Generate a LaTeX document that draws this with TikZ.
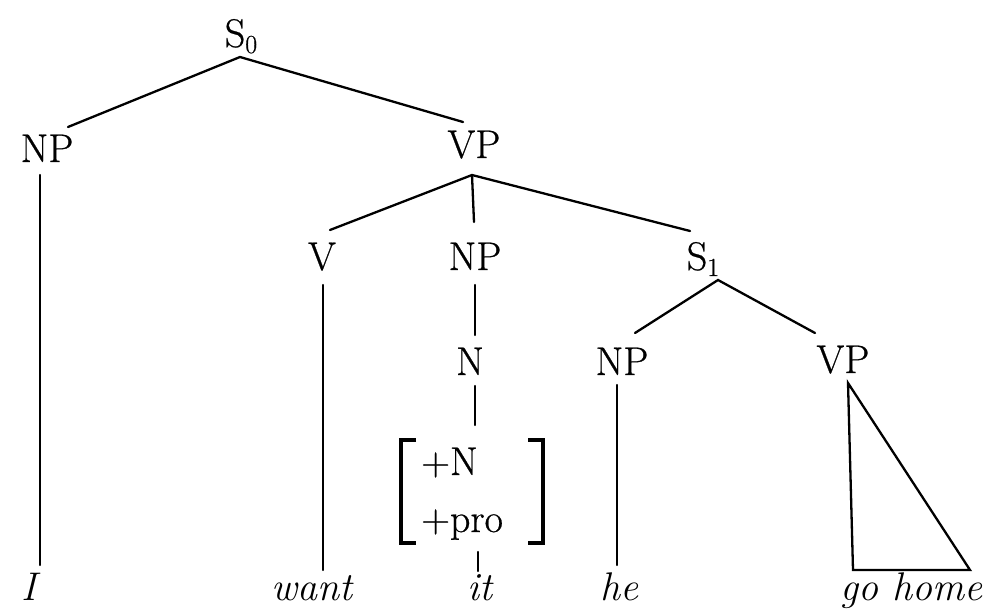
\documentclass[tikz,border=0pt]{standalone}
\usepackage{fontspec}
\newfontfamily\thickrm{Latin Modern Roman}[FakeBold=0.6]
\begin{document}
\begin{tikzpicture}[x=1pt,y=-1pt,
  lab/.style={anchor=base,inner sep=0pt,font=\fontsize{40}{48}\selectfont\thickrm},
  leaf/.style={anchor=base,inner sep=0pt,font=\fontsize{40}{48}\selectfont\itshape},
  edge/.style={line width=2.3pt,line cap=round},
  brk/.style={line width=3.5pt}]
\useasboundingbox (0,0) rectangle (987,609);
% labels
\node[lab] (s0) at (241,47) {S\raisebox{-6pt}{\fontsize{26}{30}\selectfont 0}};
\node[lab] (np1) at (47,162) {NP};
\node[lab] (vp1) at (474,158) {VP};
\node[lab] (v) at (322,270) {V};
\node[lab] (np2) at (475,270) {NP};
\node[lab] (s1) at (703,270) {S\raisebox{-6pt}{\fontsize{26}{30}\selectfont 1}};
\node[lab] (n) at (470,375) {N};
\node[lab] (np3) at (622,375) {NP};
\node[lab] (vp2) at (843,373) {VP};
\node[lab,anchor=base west] (fm1) at (421,475) {+N};
\node[lab,anchor=base west] (fm2) at (421,532) {+pro};
\node[leaf] (lI) at (29,600) {I};
\node[leaf] (lwant) at (312,600) {want};
\node[leaf] (lit) at (480,600) {it};
\node[leaf] (lhe) at (619,600) {he};
\node[leaf] (lgo) at (911,600) {go home};
% attachment points
\coordinate (s0b) at (240,57);
\coordinate (np1t) at (68,127);
\coordinate (vp1t) at (463,122);
\coordinate (np1b) at (40,175);
\coordinate (lIt) at (40,565);
\coordinate (vp1b) at (472,175);
\coordinate (vt) at (330,230);
\coordinate (np2t) at (474,222);
\coordinate (s1t) at (690,231);
\coordinate (vb) at (323,285);
\coordinate (lwantt) at (323,570);
\coordinate (np2b) at (475,285);
\coordinate (nt) at (475,335);
\coordinate (nb) at (475,386);
\coordinate (fmt) at (475,425);
\coordinate (fmb) at (478,552);
\coordinate (litt) at (478,571);
\coordinate (s1b) at (718,280);
\coordinate (np3t) at (635,333);
\coordinate (vp2t) at (815,333);
\coordinate (np3b) at (617,385);
\coordinate (lhet) at (617,565);
\coordinate (apex) at (848,383);
\coordinate (tbl) at (853,570);
\coordinate (tbr) at (970,570);
% edges
\draw[edge] (np1t) -- (s0b) -- (vp1t);
\draw[edge] (np1b) -- (lIt);
\draw[edge] (vt) -- (vp1b) -- (s1t);
\draw[edge] (vp1b) -- (np2t);
\draw[edge] (vb) -- (lwantt);
\draw[edge] (np2b) -- (nt);
\draw[edge] (nb) -- (fmt);
\draw[edge] (fmb) -- (litt);
\draw[edge] (np3t) -- (s1b) -- (vp2t);
\draw[edge] (np3b) -- (lhet);
\draw[edge,line join=miter] (apex) -- (tbl) -- (tbr) -- cycle;
% feature brackets
\draw[brk] (416,440) -- (401,440) -- (401,543) -- (416,543);
\draw[brk] (528,440) -- (543,440) -- (543,543) -- (528,543);
\end{tikzpicture}
\end{document}
